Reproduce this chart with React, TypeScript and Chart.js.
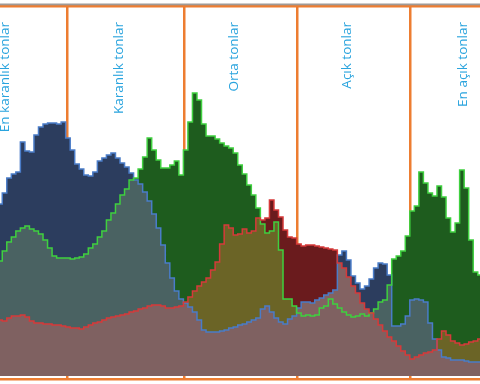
import React, { useEffect, useRef } from 'react';
import { Chart, registerables } from 'chart.js';

Chart.register(...registerables);

// Tone levels (bin centres, 2 levels per bin) visible in the view
const LEVELS: number[] = Array.from({ length: 107 }, (_, i) => 22 + 2 * i);

// Zone boundaries (tone level) and zone labels
const ZONE_EDGES: number[] = [51.6, 103.3, 153.2, 203.1];
const ZONE_LABELS: string[] = ['En karanlık tonlar', 'Karanlık tonlar', 'Orta tonlar', 'Açık tonlar', 'En açık tonlar'];

// Histogram counts per channel
const BLUE: number[] = [
  172, 183, 198, 202, 204, 234, 225, 224, 241, 249,
  252, 253, 253, 252, 254, 238, 226, 212, 207, 201,
  200, 204, 215, 218, 221, 223, 218, 213, 209, 203,
  196, 192, 184, 175, 162, 148, 131, 113, 98, 85,
  77, 73, 69, 64, 56, 46, 44, 44, 44, 45,
  46, 48, 49, 51, 52, 54, 56, 58, 67, 70,
  64, 58, 54, 52, 57, 60, 68, 74, 74, 73,
  76, 78, 81, 83, 86, 121, 125, 116, 100, 93,
  87, 90, 97, 108, 113, 112, 101, 50, 50, 52,
  60, 76, 77, 76, 74, 53, 37, 26, 19, 18,
  16, 16, 16, 15, 14, 14, 14,
];

const RED: number[] = [
  56, 55, 58, 60, 60, 61, 59, 55, 53, 53,
  52, 52, 51, 51, 50, 49, 48, 48, 47, 49,
  51, 53, 54, 56, 58, 59, 60, 61, 62, 64,
  65, 67, 68, 70, 71, 71, 70, 68, 68, 69,
  70, 74, 79, 85, 90, 94, 98, 106, 114, 132,
  151, 148, 141, 142, 147, 143, 145, 158, 156, 158,
  176, 166, 159, 146, 139, 138, 132, 130, 131, 131,
  130, 129, 128, 127, 126, 113, 108, 99, 90, 83,
  73, 67, 63, 57, 51, 45, 39, 35, 30, 25,
  21, 17, 19, 21, 23, 24, 26, 37, 45, 41,
  35, 33, 31, 32, 34, 35, 37,
];

const GREEN: number[] = [
  115, 125, 134, 139, 145, 148, 150, 147, 145, 142,
  136, 128, 120, 118, 118, 118, 117, 118, 119, 122,
  128, 132, 139, 145, 156, 163, 172, 181, 187, 196,
  198, 207, 219, 238, 226, 216, 208, 208, 211, 215,
  201, 226, 254, 283, 276, 252, 240, 240, 237, 233,
  230, 228, 223, 211, 202, 191, 181, 168, 152, 143,
  145, 154, 126, 77, 77, 70, 63, 60, 61, 60,
  61, 68, 70, 77, 72, 68, 64, 61, 59, 60,
  62, 60, 63, 67, 74, 76, 91, 117, 120, 125,
  140, 165, 170, 204, 193, 183, 180, 190, 179, 158,
  144, 153, 206, 188, 136, 104, 101,
];

const minOf = (...arrs: number[][]) => arrs[0].map((_, i) => Math.min(...arrs.map((a) => a[i])));
const pts = (vals: number[]) => vals.map((v, i) => ({ x: LEVELS[i], y: v }));

const fillDs = (label: string, vals: number[], color: string, order: number) => ({
  type: 'line' as const,
  label,
  data: pts(vals),
  stepped: 'middle' as const,
  fill: 'origin',
  backgroundColor: color,
  borderColor: 'rgba(0,0,0,0)',
  borderWidth: 0,
  pointRadius: 0,
  order,
});

const lineDs = (label: string, vals: number[], color: string) => ({
  type: 'line' as const,
  label,
  data: pts(vals),
  stepped: 'middle' as const,
  fill: false,
  borderColor: color,
  borderWidth: 1.5,
  pointRadius: 0,
  order: 0,
});

const ORANGE = '#ed7d31';

const zonePlugin = {
  id: 'zoneLabels',
  afterDraw(chart: any) {
    const { ctx, scales } = chart;
    const x = scales.x;
    ctx.save();
    ctx.fillStyle = '#a09a96';
    ctx.fillRect(0, 3.5, chart.width, 1.8);
    const edges = [2, ...ZONE_EDGES, 255];
    ctx.font = '13.5px "Open Sans"';
    ctx.fillStyle = '#2aa4de';
    ctx.textAlign = 'right';
    ctx.textBaseline = 'middle';
    ZONE_LABELS.forEach((t, i) => {
      const cx = x.getPixelForValue((edges[i] + edges[i + 1]) / 2) - 6;
      ctx.save();
      ctx.translate(cx, 22);
      ctx.rotate(-Math.PI / 2);
      ctx.fillText(t, 0, 0);
      ctx.restore();
    });
    ctx.restore();
  },
};

export default function App() {
  const ref = useRef<HTMLCanvasElement | null>(null);
  useEffect(() => {
    document.body.style.margin = '0';
    if (!ref.current) return;
    const datasets: any[] = [
      lineDs('Kırmızı', RED, '#d63a3a'),
      lineDs('Yeşil', GREEN, '#3fd03f'),
      lineDs('Mavi', BLUE, '#4a7cc8'),
      fillDs('RGB', minOf(RED, GREEN, BLUE), '#7f6161', 3),
      fillDs('RB', minOf(RED, BLUE), '#836262', 5),
      fillDs('RG', minOf(RED, GREEN), '#6b6426', 5),
      fillDs('GB', minOf(GREEN, BLUE), '#4a6262', 5),
      fillDs('R', RED, '#6a1b1d', 10),
      fillDs('G', GREEN, '#1e5c1e', 10),
      fillDs('B', BLUE, '#2c3d5e', 10),
    ];
    const chart = new Chart(ref.current, {
      type: 'line',
      data: { datasets },
      options: {
        animation: false,
        responsive: false,
        devicePixelRatio: 1,
        layout: { padding: { top: 6.5, bottom: 5, left: 0, right: 0 } },
        plugins: { legend: { display: false }, tooltip: { enabled: false } },
        scales: {
          x: {
            type: 'linear',
            min: 22,
            max: 234,
            afterBuildTicks: (s: any) => {
              s.ticks = ZONE_EDGES.map((v) => ({ value: v }));
            },
            grid: { color: ORANGE, lineWidth: 2.5, drawTicks: false },
            ticks: { display: false },
            border: { display: false },
          },
          y: {
            type: 'linear',
            min: -3,
            max: 369.5,
            afterBuildTicks: (s: any) => {
              s.ticks = [{ value: -3 }, { value: 369.5 }];
            },
            grid: { color: ORANGE, lineWidth: 2.5, drawTicks: false },
            ticks: { display: false },
            border: { display: false },
          },
        },
      } as any,
      plugins: [zonePlugin],
    });
    return () => chart.destroy();
  }, []);
  return (
    <div style={{ width: 480, height: 384, background: '#fff' }}>
      <canvas ref={ref} width={480} height={384} style={{ display: 'block' }} />
    </div>
  );
}
